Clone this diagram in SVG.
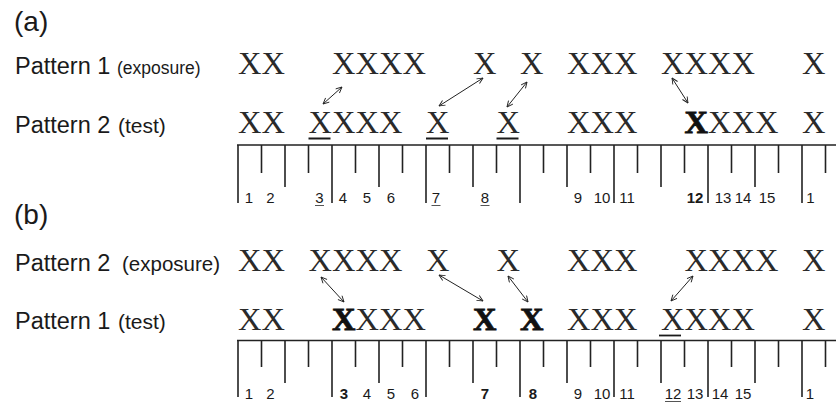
<svg xmlns="http://www.w3.org/2000/svg" width="836" height="404" viewBox="0 0 836 404">
<style>
.lbl{font-family:"Liberation Sans",Arial,sans-serif;fill:#1a1a1a}
.big{font-size:28px}
.pat{font-size:23.5px}
.x{font-family:"Liberation Serif","Times New Roman",serif;font-size:32.5px;fill:#2a2a2a}
.xb{font-weight:bold;fill:#111;stroke:#111;stroke-width:0.8}
.num{font-family:"Liberation Sans",Arial,sans-serif;font-size:15px;fill:#1a1a1a;text-anchor:middle}
.nb{font-weight:bold}
.rule{fill:none;stroke:#222;stroke-width:1.6}
.ul{stroke:#1a1a1a;stroke-width:1.8}
.nul{stroke:#555;stroke-width:1}
.arr{fill:none;stroke:#222;stroke-width:1;marker-start:url(#ah);marker-end:url(#ah)}
</style>
<defs>
<marker id="ah" viewBox="0 0 10 10" refX="9.5" refY="5" markerWidth="7" markerHeight="7" markerUnits="userSpaceOnUse" orient="auto-start-reverse">
<path d="M1,1 L9.5,5 L1,9" fill="none" stroke="#222" stroke-width="1.3"/>
</marker>
</defs>
<rect width="836" height="404" fill="#fff"/>

<g id="panel-a">
<text class="lbl big" x="14" y="31">(a)</text>
<g id="a-pattern1">
<text class="lbl pat" x="15" y="74">Pattern 1</text>
<text class="lbl" x="117" y="74" font-size="17.5">(exposure)</text>
<text class="x" x="238 261.5" y="74">XX</text>
<text class="x" x="332 355.5 379 402.5" y="74">XXXX</text>
<text class="x" x="473" y="74">X</text>
<text class="x" x="520" y="74">X</text>
<text class="x" x="567 590.5 614" y="74">XXX</text>
<text class="x" x="661 684.5 708 731.5" y="74">XXXX</text>
<text class="x" x="802" y="74">X</text>
</g>
<g id="a-pattern2">
<text class="lbl pat" x="15" y="133">Pattern 2</text>
<text class="lbl" x="118" y="133" font-size="21">(test)</text>
<text class="x" x="238 261.5" y="133">XX</text>
<text class="x" x="308.5 332 355.5 379" y="133">XXXX</text>
<text class="x" x="426" y="133">X</text>
<text class="x" x="496.5" y="133">X</text>
<text class="x" x="567 590.5 614" y="133">XXX</text>
<text class="x xb" x="684.5" y="133">X</text>
<text class="x" x="708 731.5 755" y="133">XXX</text>
<text class="x" x="802" y="133">X</text>
<path class="ul" d="M308.5,138.5 H330.5 M426,138.5 H448 M496.5,138.5 H518.5"/>
</g>
<g id="a-ruler">
<path class="rule" d="M237,145 H836 M238,145 V203 M261.5,145 V173 M285,145 V187 M308.5,145 V173 M332,145 V203 M355.5,145 V173 M379,145 V187 M402.5,145 V173 M426,145 V203 M449.5,145 V173 M473,145 V187 M496.5,145 V173 M520,145 V203 M543.5,145 V173 M567,145 V187 M590.5,145 V173 M614,145 V203 M637.5,145 V173 M661,145 V187 M684.5,145 V173 M708,145 V203 M731.5,145 V173 M755,145 V187 M778.5,145 V173 M802,145 V203 M825.5,145 V173"/>
<text class="num" x="249" y="203">1</text>
<text class="num" x="270.5" y="203">2</text>
<text class="num" x="319.5" y="203">3</text>
<text class="num" x="343" y="203">4</text>
<text class="num" x="367" y="203">5</text>
<text class="num" x="391" y="203">6</text>
<text class="num" x="436" y="203">7</text>
<text class="num" x="485" y="203">8</text>
<text class="num" x="578" y="203">9</text>
<text class="num" x="602" y="203">10</text>
<text class="num" x="627" y="203">11</text>
<text class="num nb" x="695" y="203">12</text>
<text class="num" x="723" y="203">13</text>
<text class="num" x="743" y="203">14</text>
<text class="num" x="767" y="203">15</text>
<text class="num" x="810.5" y="203">1</text>
<path class="nul" d="M315,205.5 H324 M431.5,205.5 H440.5 M480.5,205.5 H489.5"/>
</g>
</g>

<g id="panel-b">
<text class="lbl big" x="14" y="224">(b)</text>
<g id="b-pattern2">
<text class="lbl pat" x="15" y="271">Pattern 2</text>
<text class="lbl" x="122" y="271" font-size="20.5">(exposure)</text>
<text class="x" x="238 261.5" y="271">XX</text>
<text class="x" x="308.5 332 355.5 379" y="271">XXXX</text>
<text class="x" x="426" y="271">X</text>
<text class="x" x="496.5" y="271">X</text>
<text class="x" x="567 590.5 614" y="271">XXX</text>
<text class="x" x="684.5 708 731.5 755" y="271">XXXX</text>
<text class="x" x="802" y="271">X</text>
</g>
<g id="b-pattern1">
<text class="lbl pat" x="15" y="329">Pattern 1</text>
<text class="lbl" x="118" y="329" font-size="21">(test)</text>
<text class="x" x="238 261.5" y="330">XX</text>
<text class="x xb" x="332" y="330">X</text>
<text class="x" x="355.5 379 402.5" y="330">XXX</text>
<text class="x xb" x="473" y="330">X</text>
<text class="x xb" x="520" y="330">X</text>
<text class="x" x="567 590.5 614" y="330">XXX</text>
<text class="x" x="661 684.5 708 731.5" y="330">XXXX</text>
<text class="x" x="802" y="330">X</text>
<path class="ul" d="M659,335.5 H681"/>
</g>
<g id="b-ruler">
<path class="rule" d="M237,340.5 H836 M238,340.5 V397 M261.5,340.5 V367 M285,340.5 V383 M308.5,340.5 V367 M332,340.5 V397 M355.5,340.5 V367 M379,340.5 V383 M402.5,340.5 V367 M426,340.5 V397 M449.5,340.5 V367 M473,340.5 V383 M496.5,340.5 V367 M520,340.5 V397 M543.5,340.5 V367 M567,340.5 V383 M590.5,340.5 V367 M614,340.5 V397 M637.5,340.5 V367 M661,340.5 V383 M684.5,340.5 V367 M708,340.5 V397 M731.5,340.5 V367 M755,340.5 V383 M778.5,340.5 V367 M802,340.5 V397 M825.5,340.5 V367"/>
<text class="num" x="249" y="399">1</text>
<text class="num" x="270.5" y="399">2</text>
<text class="num nb" x="344" y="399">3</text>
<text class="num" x="367" y="399">4</text>
<text class="num" x="391" y="399">5</text>
<text class="num" x="415" y="399">6</text>
<text class="num nb" x="485" y="399">7</text>
<text class="num nb" x="533" y="399">8</text>
<text class="num" x="578" y="399">9</text>
<text class="num" x="602" y="399">10</text>
<text class="num" x="627" y="399">11</text>
<text class="num" x="673" y="399">12</text>
<text class="num" x="695" y="399">13</text>
<text class="num" x="720" y="399">14</text>
<text class="num" x="743" y="399">15</text>
<text class="num" x="810" y="399">1</text>
<path class="nul" d="M665,401.5 H681"/>
</g>
</g>

<g id="connectors">
<path class="arr" d="M342,87 L323,104"/>
<path class="arr" d="M483,78 L439,106"/>
<path class="arr" d="M527,82 L507,107"/>
<path class="arr" d="M672,78 L688,103"/>
<path class="arr" d="M321,277 L344,302"/>
<path class="arr" d="M439,275 L483,301"/>
<path class="arr" d="M508,276 L528,302"/>
<path class="arr" d="M693,276 L671,301"/>
</g>
</svg>
